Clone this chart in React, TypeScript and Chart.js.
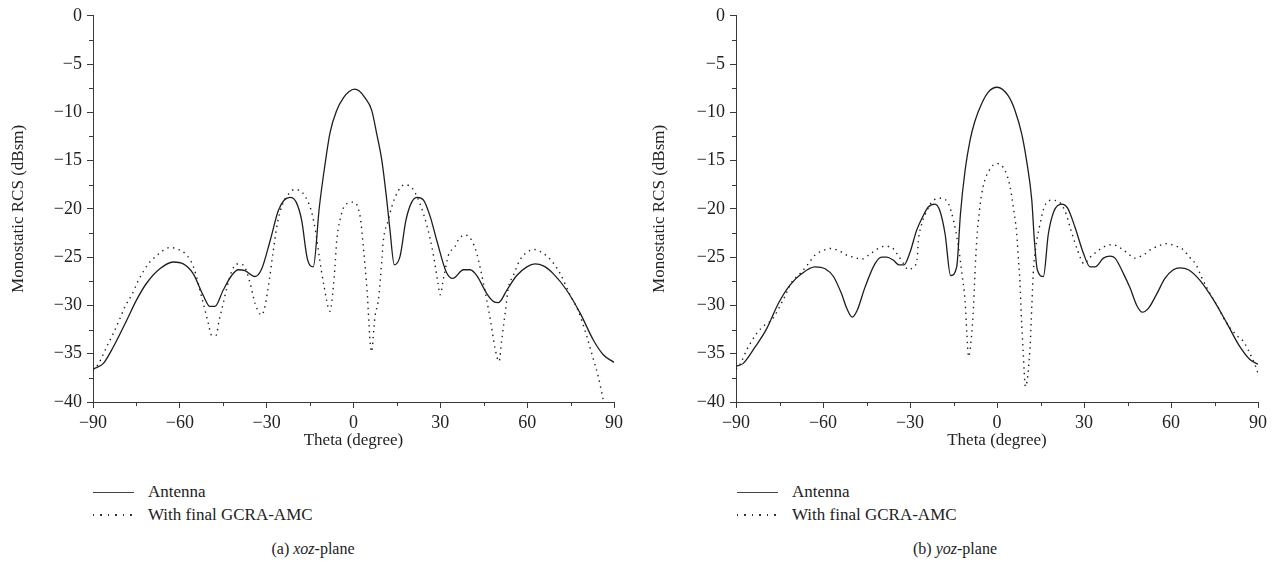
import React, { useEffect, useRef } from "react";
import { Chart, registerables } from "chart.js";

Chart.register(...registerables);

// ---- Axis ticks ----
const thetaMinorTicks = [-75, -45, -15, 15, 45, 75];
const rcsMinorTicks = [-2.5, -7.5, -12.5, -17.5, -22.5, -27.5, -32.5, -37.5];

// ---- (a) xoz-plane ----
const xozAntennaTheta = [
  -90, -86.4, -83, -78.3, -74.9, -71.5, -66.9, -62.3, -58.8, -55.4, -52, -49.6, -47.9, -45, -42.1, -39.8,
  -37.5, -34, -31.7, -28.8, -26, -24, -21.9, -19.8, -17.9, -16, -13.9, -11.8, -9.8, -8.1, -5.8, -3.5, -1.5, 0.3,
  2, 4, 6.3, 8, 9.8, 11.5, 12.6, 14.1, 16.1, 18.1, 20.1, 22.1, 24.2, 26.5, 28.8, 32, 34.3, 38, 40.3, 42.6,
  46.1, 48.4, 50.1, 53, 56.4, 59.9, 62.7, 65.6, 69, 73.6, 78.3, 82.9, 86.3, 90,
];
const xozAntennaRcs = [
  -36.6, -36.0, -34.3, -31.5, -29.4, -27.7, -26.2, -25.5, -25.7, -26.7, -28.9, -30.1, -30.1, -28.4, -26.9, -26.3,
  -26.4, -27.0, -26.2, -23.3, -20.2, -19.1, -18.8, -19.3, -21.2, -25.1, -26.0, -19.8, -15.3, -12.1, -9.8, -8.5, -7.85, -7.6,
  -7.8, -8.5, -9.8, -12.2, -15.0, -19.1, -22.2, -25.8, -24.9, -21.2, -19.3, -18.8, -19.1, -20.8, -23.3, -26.5, -27.2, -26.3, -26.3, -26.9,
  -28.8, -29.6, -29.7, -28.4, -26.9, -26.0, -25.7, -25.9, -26.7, -28.4, -30.8, -33.6, -35.1, -35.9,
];
const xozGcraTheta = [
  -90, -88.2, -85.3, -83, -80.9, -78.9, -76.6, -74.3, -70.9, -68.6, -65.7, -63.4, -60.5, -57.6, -55.3, -51.9,
  -50.2, -49, -47.5, -46.4, -45, -43.8, -42.1, -40.4, -38.1, -35.8, -34, -31.7, -30.6, -29.1, -27.7, -26.3,
  -24.5, -22.5, -20.5, -18.5, -16.5, -14.5, -13, -11.8, -10.3, -8.1, -7.5, -6.4, -5.8, -4.7, -2.9, 0, 2.3,
  3.4, 4.6, 6.2, 7.4, 8.6, 9.8, 10.3, 12, 13.2, 15.5, 17.8, 20.4, 23, 25.5, 27.5, 29.2, 29.9, 31.1, 32.8,
  35.1, 36.2, 38.6, 40.9, 42.6, 43.7, 44.9, 47.3, 49, 50.3, 51.2, 52.4, 53.5, 55.2, 57.5, 59.9, 62.5, 65,
  67.9, 71.4, 74.8, 77.7, 80.6, 82.9, 84.6, 86.3, 88, 90,
];
const xozGcraRcs = [
  -36.7, -36.1, -34.3, -32.9, -31.5, -30.1, -28.9, -27.4, -25.7, -25.0, -24.3, -24.0, -24.2, -24.8, -26.0, -29.8,
  -31.8, -33.1, -33.1, -31.5, -29.8, -28.2, -26.5, -25.7, -25.8, -27.6, -29.8, -31.0, -30.1, -27.4, -24.3, -21.5,
  -19.5, -18.5, -18.0, -18.1, -18.8, -20.3, -22.5, -25.0, -27.8, -30.6, -29.6, -26.0, -23.3, -21.2, -19.6, -19.3, -20.8,
  -23.9, -28.1, -34.8, -31.2, -29.4, -25.3, -23.3, -21.2, -19.8, -18.1, -17.5, -17.9, -19.5, -21.9, -24.6, -27.7, -28.9, -27.2, -24.8,
  -23.9, -23.2, -22.7, -23.3, -24.6, -26.0, -27.7, -31.5, -34.6, -35.8, -33.6, -30.8, -28.2, -26.9, -25.3, -24.5, -24.2, -24.5,
  -25.2, -26.7, -28.9, -30.6, -33.2, -35.6, -37.4, -39.8, -42.0, -44.0,
];

// ---- (b) yoz-plane ----
const yozAntennaTheta = [
  -90, -87.5, -83.4, -79.4, -75.4, -71.4, -67.3, -62.8, -59.3, -56.4, -53.6, -51.8, -49.9, -48.2, -45.5, -42.1,
  -39.8, -38, -35.8, -33.8, -32.1, -30, -27.7, -25.6, -23.7, -21.4, -19.7, -17.9, -16, -13.9, -12.6, -11,
  -9.3, -7.6, -5.3, -3, 0, 3.9, 6.2, 8.5, 10.2, 12, 12.9, 13.9, 16, 17.7, 19.7, 22.3, 24.3, 26.9, 29.8,
  32.1, 33.8, 36.7, 39, 40.7, 43.6, 45.9, 48.2, 50.1, 52.2, 55.1, 57.9, 60.8, 63.1, 66, 70, 74.6, 79.2,
  83.8, 87.2, 90,
];
const yozAntennaRcs = [
  -36.3, -36.0, -34.3, -32.4, -29.8, -27.9, -26.7, -26.0, -26.2, -27.0, -28.8, -30.3, -31.2, -30.5, -28.1, -25.7,
  -25.0, -25.0, -25.3, -25.8, -25.8, -24.5, -22.2, -20.8, -19.8, -19.5, -20.2, -22.6, -26.9, -26.0, -20.5, -16.0,
  -12.9, -10.9, -9.1, -7.9, -7.4, -8.3, -9.8, -12.2, -15.0, -19.1, -23.3, -26.3, -27.0, -22.6, -20.2, -19.5, -19.9, -21.9, -24.6,
  -26.0, -26.0, -25.1, -24.9, -25.1, -26.7, -28.2, -30.0, -30.7, -30.3, -28.8, -27.2, -26.3, -26.1, -26.3, -27.4, -29.4, -31.8,
  -34.3, -35.6, -36.1,
];
const yozGcraTheta = [
  -90, -88.6, -86.3, -84.6, -82.9, -80, -77.7, -73.7, -70.8, -67.9, -65.6, -62.8, -59.9, -57.6, -54.7, -51.8,
  -49.5, -46.6, -44.3, -42, -39.4, -36.8, -34.6, -32.8, -30.5, -28.8, -27.6, -27.1, -25.9, -24.2, -21.9, -19,
  -16.7, -15, -13.3, -12.1, -11, -10.4, -9.8, -8.7, -8.1, -7.6, -7, -5.9, -4.8, -2.5, 0, 2.7, 4.5, 5.6,
  6.8, 7.4, 7.9, 8.4, 9, 9.8, 11.4, 12, 12.5, 13.4, 14.6, 16.3, 18.6, 21.5, 23.8, 25.5, 27.8, 30.1, 31.8,
  34.1, 37, 39.9, 42.8, 45.1, 47.4, 50.3, 53.1, 56, 58.3, 61.2, 64.1, 66.4, 68.7, 70.4, 72.8, 76.8, 78.5,
  82.6, 84.9, 86.6, 88.9, 90,
];
const yozGcraRcs = [
  -36.6, -36.1, -34.6, -33.7, -32.9, -32.0, -31.5, -29.4, -27.6, -26.7, -25.9, -24.8, -24.3, -24.1, -24.3, -24.8,
  -25.0, -25.2, -24.8, -24.3, -23.9, -23.9, -24.6, -25.4, -26.3, -26.0, -25.3, -23.3, -21.5, -20.2, -19.1, -18.9,
  -19.5, -21.2, -23.9, -26.7, -29.6, -32.9, -35.3, -32.9, -30.1, -26.7, -23.3, -19.8, -17.7, -15.9, -15.3, -16.0, -17.7, -19.8,
  -22.6, -25.3, -27.5, -31.2, -34.6, -38.4, -34.3, -30.1, -26.7, -23.9, -21.9, -19.8, -19.1, -19.3, -20.5, -22.2, -24.3, -25.7, -25.1,
  -24.5, -23.9, -23.7, -24.1, -24.6, -25.1, -24.8, -24.2, -23.8, -23.6, -23.8, -24.2, -25.0, -25.8, -27.0, -28.4, -30.5, -31.5,
  -33.1, -33.7, -34.6, -36.1, -37.0,
];

const FONT = "'Liberation Serif', 'DejaVu Serif', 'Times New Roman', serif";
const AXIS_COLOR = "#3a3a3a";
const TEXT_COLOR = "#222";
const LINE_COLOR = "#1e1e1e";
const DOT_DASH = [1.4, 4.4];
const CHART_BOTTOM = 402;

const fmt = (v: number) => (v < 0 ? "\u2212" + Math.abs(v) : String(v));

const minorTickPlugin = {
  id: "minorTicks",
  afterDraw(chart: any) {
    const { ctx, chartArea } = chart;
    const x = chart.scales.x;
    const y = chart.scales.y;
    ctx.save();
    ctx.strokeStyle = AXIS_COLOR;
    ctx.lineWidth = 1;
    ctx.beginPath();
    for (const v of thetaMinorTicks) {
      const px = Math.round(x.getPixelForValue(v)) + 0.5;
      ctx.moveTo(px, chartArea.bottom);
      ctx.lineTo(px, chartArea.bottom + 4);
    }
    for (const v of rcsMinorTicks) {
      const py = Math.round(y.getPixelForValue(v)) + 0.5;
      ctx.moveTo(chartArea.left, py);
      ctx.lineTo(chartArea.left - 4, py);
    }
    ctx.stroke();
    ctx.restore();
  },
};

type PanelProps = {
  antTheta: number[];
  antRcs: number[];
  gcraTheta: number[];
  gcraRcs: number[];
  width: number;
  height: number;
  axisLeft: number;
  padRight: number;
  titlePad: number;
};

function RcsChart(p: PanelProps) {
  const ref = useRef<HTMLCanvasElement>(null);
  useEffect(() => {
    const tickFont = { family: FONT, size: 18 };
    const titleFont = { family: FONT, size: 17 };
    const chart = new Chart(ref.current as HTMLCanvasElement, {
      type: "line",
      data: {
        datasets: [
          {
            label: "Antenna",
            data: p.antTheta.map((t, i) => ({ x: t, y: p.antRcs[i] })),
            borderColor: LINE_COLOR,
            borderWidth: 1.3,
            pointRadius: 0,
            cubicInterpolationMode: "monotone",
            fill: false,
          },
          {
            label: "With final GCRA-AMC",
            data: p.gcraTheta.map((t, i) => ({ x: t, y: p.gcraRcs[i] })),
            borderColor: LINE_COLOR,
            borderWidth: 1.4,
            borderDash: DOT_DASH,
            pointRadius: 0,
            cubicInterpolationMode: "monotone",
            fill: false,
          },
        ],
      },
      options: {
        responsive: false,
        animation: false,
        layout: { padding: { left: 0, right: p.padRight, top: 15, bottom: 0 } },
        plugins: { legend: { display: false }, tooltip: { enabled: false } },
        scales: {
          x: {
            type: "linear",
            min: -90,
            max: 90,
            ticks: {
              stepSize: 30,
              callback: (v: any) => fmt(Number(v)),
              font: tickFont,
              color: TEXT_COLOR,
              padding: 4,
              maxRotation: 0,
              autoSkip: false,
            },
            grid: { drawOnChartArea: false, tickLength: 6, color: AXIS_COLOR },
            border: { color: AXIS_COLOR, width: 1 },
            title: {
              display: true,
              text: "Theta (degree)",
              font: titleFont,
              color: TEXT_COLOR,
              padding: { top: 0, bottom: 4 },
            },
            afterFit: (s: any) => {
              s.height = p.height - CHART_BOTTOM;
            },
          },
          y: {
            type: "linear",
            min: -40,
            max: 0,
            ticks: {
              stepSize: 5,
              callback: (v: any) => fmt(Number(v)),
              font: tickFont,
              color: TEXT_COLOR,
              padding: 5,
            },
            grid: { drawOnChartArea: false, tickLength: 6, color: AXIS_COLOR },
            border: { color: AXIS_COLOR, width: 1 },
            title: {
              display: true,
              text: "Monostatic RCS (dBsm)",
              font: titleFont,
              color: TEXT_COLOR,
              padding: { top: p.titlePad, bottom: 0 },
            },
            afterFit: (s: any) => {
              s.width = p.axisLeft;
            },
          },
        },
      } as any,
      plugins: [minorTickPlugin],
    });
    return () => chart.destroy();
  }, []);
  return (
    <canvas
      ref={ref}
      width={p.width}
      height={p.height}
      style={{ display: "block", width: p.width, height: p.height }}
    />
  );
}

function Legend({ left, top }: { left: number; top: number }) {
  const row: React.CSSProperties = {
    position: "absolute",
    left: 0,
    height: 22,
    display: "flex",
    alignItems: "center",
    whiteSpace: "nowrap",
  };
  const txt: React.CSSProperties = { fontFamily: FONT, fontSize: 17, color: TEXT_COLOR, lineHeight: "22px" };
  return (
    <div style={{ position: "absolute", left, top, width: 280, height: 50 }}>
      <div style={{ ...row, top: 0 }}>
        <span style={{ display: "inline-block", width: 41, height: 0, borderTop: "1.3px solid #444", marginRight: 14 }} />
        <span style={txt}>Antenna</span>
      </div>
      <div style={{ ...row, top: 23 }}>
        <span
          style={{
            display: "inline-block",
            width: 41,
            height: 1.5,
            marginRight: 14,
            backgroundImage: "repeating-linear-gradient(to right, #333 0px, #333 1.5px, transparent 1.5px, transparent 7.5px)",
          }}
        />
        <span style={txt}>With final GCRA-AMC</span>
      </div>
    </div>
  );
}

function Caption({ center, top, label, plane }: { center: number; top: number; label: string; plane: string }) {
  return (
    <div
      style={{
        position: "absolute",
        left: center - 150,
        top,
        width: 300,
        textAlign: "center",
        fontFamily: FONT,
        fontSize: 16,
        color: TEXT_COLOR,
        lineHeight: "20px",
      }}
    >
      {label} <i>{plane}</i>-plane
    </div>
  );
}

export default function App() {
  const H = 455;
  return (
    <div style={{ position: "absolute", left: 0, top: 0, width: 1275, height: 578, background: "#fff" }}>
      <div style={{ position: "absolute", left: 0, top: 0 }}>
        <RcsChart
          antTheta={xozAntennaTheta}
          antRcs={xozAntennaRcs}
          gcraTheta={xozGcraTheta}
          gcraRcs={xozGcraRcs}
          width={640}
          height={H}
          axisLeft={93}
          padRight={26}
          titlePad={8}
        />
      </div>
      <div style={{ position: "absolute", left: 640, top: 0 }}>
        <RcsChart
          antTheta={yozAntennaTheta}
          antRcs={yozAntennaRcs}
          gcraTheta={yozGcraTheta}
          gcraRcs={yozGcraRcs}
          width={635}
          height={H}
          axisLeft={96}
          padRight={17}
          titlePad={9}
        />
      </div>
      <Legend left={93} top={481} />
      <Legend left={737} top={481} />
      <Caption center={313} top={539} label="(a)" plane="xoz" />
      <Caption center={955} top={539} label="(b)" plane="yoz" />
    </div>
  );
}
